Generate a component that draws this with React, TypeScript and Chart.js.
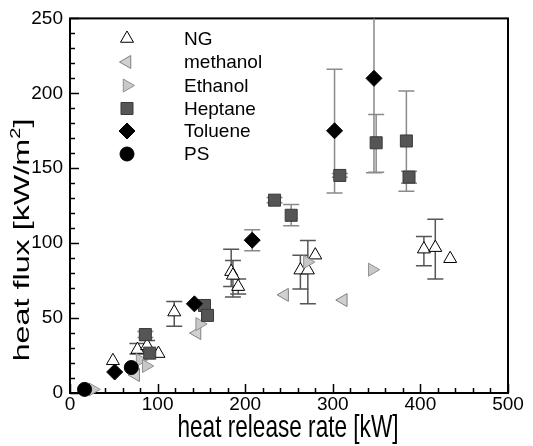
import React, { useEffect, useRef } from 'react';
import { Chart, registerables } from 'chart.js';

Chart.register(...registerables);

// ---- data (heat release rate [kW], heat flux [kW/m2], error bar low/high) ----
const ngX = [49, 77, 88, 101, 119, 184, 186, 192, 263, 271.5, 280, 404, 417, 434];
const ngY = [21.5, 29, 31.5, 26.3, 54, 81, 78.5, 71, 82, 82, 92, 96, 97, 89.6];
const ngLo = [null, 26, 28, null, 44.6, 71, 64, 66, 69.4, 59.5, null, 85, 76, null];
const ngHi = [null, 33, 35, null, 61, 96, 88.5, 76, 92, 101.7, null, 104.5, 116, null];

const methanolX = [75, 145, 245, 312];
const methanolY = [12, 40, 65.5, 62];

const ethanolX = [26, 80, 87, 148, 271, 345];
const ethanolY = [2.4, 22, 18, 46, 87.4, 82.3];

const heptaneX = [86, 91, 153.5, 157, 233.5, 252.5, 308, 349.5, 384, 387];
const heptaneY = [39, 26.6, 58.4, 51.8, 128.7, 118.6, 145.2, 167, 168.2, 144.1];
const heptaneLo = [37, null, null, null, 127, 111.6, 144, 147.4, 134.6, 140];
const heptaneHi = [41, null, null, null, 130.5, 125.8, 146.5, 185.8, 201.6, 148];

const tolueneX = [51, 142, 208, 302, 347];
const tolueneY = [14, 59.5, 102, 175, 210];
const tolueneLo = [null, null, 95, 133.4, 147];
const tolueneHi = [null, null, 109, 216, 265];

const psX = [16.6, 70];
const psY = [2.4, 17];

const xTicks = [0, 100, 200, 300, 400, 500];
const yTicks = [0, 50, 100, 150, 200, 250];

const legendLabels = ['NG', 'methanol', 'Ethanol', 'Heptane', 'Toluene', 'PS'];

const FONT = 'Arial, "Liberation Sans", sans-serif';

const pts = (xs: number[], ys: number[]) => xs.map((x, i) => ({ x, y: ys[i] }));

type Marker = { style: string; rot: number; r: number; fill: string; stroke: string };
const markers: Marker[] = [
  { style: 'triangle', rot: 0, r: 7.5, fill: '#ffffff', stroke: '#000000' },
  { style: 'triangle', rot: 270, r: 7.5, fill: '#d0d0d0', stroke: '#808080' },
  { style: 'triangle', rot: 90, r: 7.5, fill: '#c8c8c8', stroke: '#909090' },
  { style: 'rect', rot: 0, r: 8.5, fill: '#555555', stroke: '#3a3a3a' },
  { style: 'rectRot', rot: 0, r: 8, fill: '#000000', stroke: '#000000' },
  { style: 'circle', rot: 0, r: 7, fill: '#000000', stroke: '#000000' },
];

function drawMarker(ctx: CanvasRenderingContext2D, m: Marker, x: number, y: number, r: number) {
  ctx.save();
  ctx.translate(x, y);
  ctx.rotate((m.rot * Math.PI) / 180);
  ctx.beginPath();
  if (m.style === 'triangle') {
    for (let k = 0; k < 3; k++) {
      const a = (k * 2 * Math.PI) / 3;
      const px = Math.sin(a) * r;
      const py = -Math.cos(a) * r;
      if (k === 0) ctx.moveTo(px, py);
      else ctx.lineTo(px, py);
    }
    ctx.closePath();
  } else if (m.style === 'rect') {
    const s = r * Math.SQRT1_2;
    ctx.rect(-s, -s, 2 * s, 2 * s);
  } else if (m.style === 'rectRot') {
    ctx.moveTo(0, -r);
    ctx.lineTo(r, 0);
    ctx.lineTo(0, r);
    ctx.lineTo(-r, 0);
    ctx.closePath();
  } else {
    ctx.arc(0, 0, r, 0, Math.PI * 2);
  }
  ctx.fillStyle = m.fill;
  ctx.fill();
  ctx.lineWidth = 1;
  ctx.strokeStyle = m.stroke;
  ctx.stroke();
  ctx.restore();
}

const errorSets = [
  { xs: ngX, lo: ngLo, hi: ngHi, color: '#555555' },
  { xs: heptaneX, lo: heptaneLo, hi: heptaneHi, color: '#8a8a8a' },
  { xs: tolueneX, lo: tolueneLo, hi: tolueneHi, color: '#8a8a8a' },
];

const framePlugin = {
  id: 'frameAndBars',
  beforeDatasetsDraw(chart: any) {
    const { ctx, chartArea: a, scales } = chart;
    const xs = scales.x;
    const ys = scales.y;
    ctx.save();
    // ticks (inward)
    ctx.strokeStyle = '#000';
    ctx.lineWidth = 1.5;
    for (let v = 0; v <= 500; v += 20) {
      const px = Math.round(xs.getPixelForValue(v)) + 0.5;
      const len = v % 100 === 0 ? 9 : 5;
      ctx.beginPath();
      ctx.moveTo(px, a.bottom);
      ctx.lineTo(px, a.bottom - len);
      ctx.stroke();
    }
    for (let v = 0; v <= 250; v += 10) {
      const py = Math.round(ys.getPixelForValue(v)) + 0.5;
      const len = v % 50 === 0 ? 9 : 5;
      ctx.beginPath();
      ctx.moveTo(a.left, py);
      ctx.lineTo(a.left + len, py);
      ctx.stroke();
    }
    // frame
    ctx.lineWidth = 2;
    ctx.strokeRect(a.left, a.top, a.right - a.left, a.bottom - a.top);
    // error bars
    ctx.beginPath();
    ctx.rect(a.left, a.top, a.right - a.left, a.bottom - a.top);
    ctx.clip();
    ctx.lineWidth = 1.5;
    errorSets.forEach((s) => {
      ctx.strokeStyle = s.color;
      s.xs.forEach((xv, i) => {
        const lo = s.lo[i];
        const hi = s.hi[i];
        if (lo == null || hi == null) return;
        const px = xs.getPixelForValue(xv);
        const pl = ys.getPixelForValue(lo);
        const ph = ys.getPixelForValue(hi);
        ctx.beginPath();
        ctx.moveTo(px, pl);
        ctx.lineTo(px, ph);
        ctx.moveTo(px - 8, pl);
        ctx.lineTo(px + 8, pl);
        ctx.moveTo(px - 8, ph);
        ctx.lineTo(px + 8, ph);
        ctx.stroke();
      });
    });
    ctx.restore();
  },
  afterDraw(chart: any) {
    const { ctx } = chart;
    ctx.save();
    ctx.fillStyle = '#000';
    // legend
    const rowY = [38.5, 62, 85.5, 108.5, 131, 154];
    legendLabels.forEach((lab, i) => {
      const m = markers[i];
      drawMarker(ctx, m, 127, rowY[i], m.r);
      ctx.fillStyle = '#000';
      ctx.font = `19px ${FONT}`;
      ctx.textAlign = 'left';
      ctx.textBaseline = 'middle';
      ctx.fillText(lab, 184, rowY[i] + 1);
    });
    // x title
    ctx.save();
    ctx.translate(288, 437);
    ctx.scale(1, 1.35);
    ctx.font = `22.6px ${FONT}`;
    ctx.textAlign = 'center';
    ctx.textBaseline = 'alphabetic';
    ctx.fillText('heat release rate [kW]', 0, 0);
    ctx.restore();
    // y title
    ctx.save();
    ctx.translate(28.5, 240);
    ctx.rotate(-Math.PI / 2);
    ctx.scale(1.43, 1);
    ctx.textAlign = 'left';
    ctx.textBaseline = 'alphabetic';
    const f1 = `22.6px ${FONT}`;
    const f2 = `14px ${FONT}`;
    const p1 = 'heat flux [kW/m';
    const p2 = '2';
    const p3 = ']';
    ctx.font = f1;
    const w1 = ctx.measureText(p1).width;
    const w3 = ctx.measureText(p3).width;
    ctx.font = f2;
    const w2 = ctx.measureText(p2).width;
    let x0 = -(w1 + w2 + w3) / 2;
    ctx.font = f1;
    ctx.fillText(p1, x0, 0);
    x0 += w1;
    ctx.font = f2;
    ctx.fillText(p2, x0, -9);
    x0 += w2;
    ctx.font = f1;
    ctx.fillText(p3, x0, 0);
    ctx.restore();
    ctx.restore();
  },
};

function ds(label: string, xs: number[], ys: number[], m: Marker, order: number) {
  return {
    label,
    data: pts(xs, ys),
    pointStyle: m.style,
    pointRotation: m.rot,
    pointRadius: m.r,
    backgroundColor: m.fill,
    borderColor: m.stroke,
    borderWidth: 1,
    showLine: false,
    clip: false as any,
    order,
  };
}

export default function App() {
  const ref = useRef<HTMLCanvasElement | null>(null);
  useEffect(() => {
    if (!ref.current) return;
    const chart = new Chart(ref.current, {
      type: 'scatter',
      data: {
        datasets: [
          ds('NG', ngX, ngY, markers[0], 5),
          ds('methanol', methanolX, methanolY, markers[1], 4),
          ds('Ethanol', ethanolX, ethanolY, markers[2], 3),
          ds('Heptane', heptaneX, heptaneY, markers[3], 2),
          ds('Toluene', tolueneX, tolueneY, markers[4], 1),
          ds('PS', psX, psY, markers[5], 0),
        ] as any,
      },
      options: {
        animation: false,
        responsive: false,
        events: [],
        layout: { padding: { top: 13, right: 25, left: 0, bottom: 0 } },
        plugins: { legend: { display: false }, tooltip: { enabled: false } },
        scales: {
          x: {
            type: 'linear',
            min: 0,
            max: 500,
            afterBuildTicks: (s: any) => {
              s.ticks = xTicks.map((v) => ({ value: v }));
            },
            afterFit: (s: any) => {
              s.height = 53;
            },
            grid: { display: false, drawTicks: false },
            border: { display: false },
            ticks: { color: '#000', font: { size: 19, family: FONT }, padding: 0, maxRotation: 0, autoSkip: false },
          },
          y: {
            type: 'linear',
            min: 0,
            max: 250,
            afterBuildTicks: (s: any) => {
              s.ticks = yTicks.map((v) => ({ value: v }));
            },
            afterFit: (s: any) => {
              s.width = 70;
            },
            grid: { display: false, drawTicks: false },
            border: { display: false },
            ticks: { color: '#000', font: { size: 19, family: FONT }, padding: 7, autoSkip: false },
          },
        },
      },
      plugins: [framePlugin],
    });
    return () => chart.destroy();
  }, []);
  return (
    <div style={{ position: 'fixed', left: 0, top: 0, width: 533, height: 446, background: '#fff' }}>
      <canvas ref={ref} width={533} height={446} style={{ display: 'block' }} />
    </div>
  );
}
